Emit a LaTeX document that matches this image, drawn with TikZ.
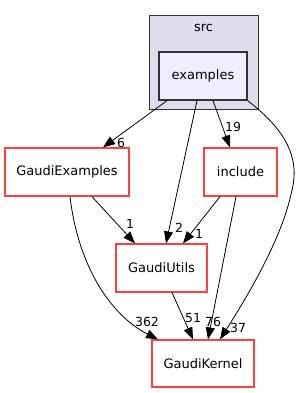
\documentclass[tikz,border=0pt]{standalone}
\usepackage{fontspec}
\setmainfont{DejaVu Sans}
\usetikzlibrary{arrows.meta}
\definecolor{nodered}{RGB}{255,64,64}
\definecolor{clusterfill}{RGB}{221,221,238}
\definecolor{innerfill}{RGB}{238,238,255}
\definecolor{darkline}{RGB}{51,51,51}
\tikzset{
  dirbox/.style={draw=nodered, line width=1.2pt, fill=white, inner sep=0pt, font=\fontsize{13}{15}\selectfont},
  edge/.style={line width=0.8pt, -{Triangle[length=12pt,width=9pt]}},
  elabel/.style={inner sep=0pt, font=\fontsize{12.5}{14}\selectfont}
}
\begin{document}
\begin{tikzpicture}[x=1pt,y=-1pt]
\useasboundingbox (0,0) rectangle (300,393);
\fill[white] (0,0) rectangle (300,393);
\node[draw=darkline, line width=1pt, fill=clusterfill, minimum width=109pt, minimum height=94pt, inner sep=0pt] (src) at (203.5,63) {};
\node[inner sep=0pt, font=\fontsize{13}{15}\selectfont] (srclabel) at (203.5,28) {src};
\node[draw=darkline, line width=1.2pt, fill=innerfill, minimum width=88pt, minimum height=48pt, inner sep=0pt, font=\fontsize{13}{15}\selectfont] (examples) at (203,76) {examples};
\node[dirbox, minimum width=124pt, minimum height=48pt] (gex) at (67,172) {GaudiExamples};
\node[dirbox, minimum width=73pt, minimum height=48pt] (inc) at (240.5,172) {include};
\node[dirbox, minimum width=91pt, minimum height=48pt] (gut) at (161.5,268) {GaudiUtils};
\node[dirbox, minimum width=102pt, minimum height=47pt] (gke) at (203,363.5) {GaudiKernel};

\draw[edge] ([xshift=-36pt]examples.south) -- ([xshift=36pt]gex.north);
\node[elabel] (l6) at (121,143) {6};
\draw[edge] ([xshift=-6pt]examples.south) -- ([xshift=4.5pt]gut.north);
\node[elabel] (l2) at (179,228) {2};
\draw[edge] ([xshift=10pt]examples.south) -- ([xshift=-10.5pt]inc.north);
\node[elabel] (l19) at (233,127) {19};
\draw[edge] (examples.south east) .. controls (275,122) and (302,150) .. (292,190) .. controls (282,240) and (245,300) .. ([xshift=17pt]gke.north);
\node[elabel] (l37) at (238,328) {37};
\draw[edge] ([xshift=25pt]gex.south) -- ([xshift=-26.5pt]gut.north);
\node[elabel] (l1a) at (130,224) {1};
\draw[edge] ([xshift=-20.5pt]inc.south) -- ([xshift=21.5pt]gut.north);
\node[elabel] (l1b) at (199,234) {1};
\draw[edge] ([xshift=3pt]gex.south) .. controls (78,265) and (110,315) .. ([xshift=-45pt]gke.north);
\node[elabel] (l362) at (147,322) {362};
\draw[edge] ([xshift=10.5pt]gut.south) -- ([xshift=-10pt]gke.north);
\node[elabel] (l51) at (193,318) {51};
\draw[edge] ([xshift=-4.5pt]inc.south) -- ([xshift=5pt]gke.north);
\node[elabel] (l76) at (213,322) {76};
\end{tikzpicture}
\end{document}
